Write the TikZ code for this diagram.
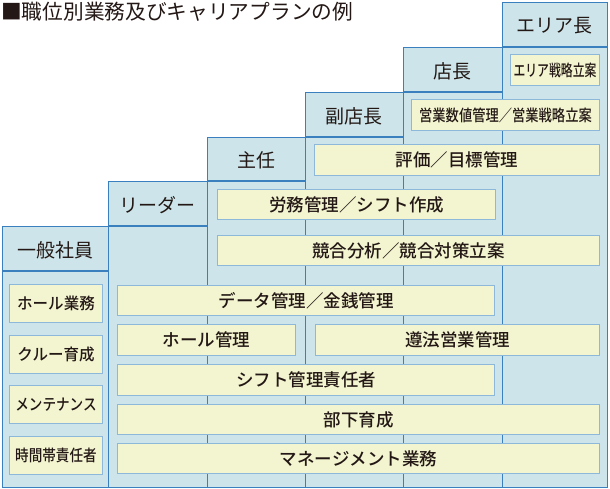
\documentclass[tikz,border=0pt]{standalone}
\usepackage{graphicx}
\usepackage{fontspec}
\setmainfont{Noto Sans CJK JP Medium}
\newfontfamily\regfont{Noto Sans CJK JP}
\definecolor{colfill}{HTML}{CDE5EA}
\definecolor{colline}{HTML}{3A80BF}
\definecolor{yfill}{HTML}{F3F5D0}
\definecolor{yline}{HTML}{8DB8D9}
\definecolor{ink}{HTML}{231815}
\newcommand\sqz[2]{\scalebox{#1}[1]{#2}}
\begin{document}
\begin{tikzpicture}[x=1pt,y=-1pt,
  colbox/.style={draw=colline,fill=colfill,line width=1.4pt,anchor=north west,inner sep=0pt},
  headtext/.style={text=ink,font=\regfont\fontsize{19}{21}\selectfont},
  ybox/.style={draw=yline,fill=yfill,line width=1pt,anchor=north west,inner sep=0pt,text=ink,font=\fontsize{17.5}{19}\selectfont},
  ysmall/.style={ybox,font=\fontsize{16}{18}\selectfont},
  hline/.style={draw=colline,line width=1.4pt}]
\useasboundingbox (0,0) rectangle (610,489);
% columns
\node[colbox,minimum width=106pt,minimum height=261pt] (c1) at (2,226) {};
\node[colbox,minimum width=99pt,minimum height=306pt] (c2) at (108,181) {};
\node[colbox,minimum width=98pt,minimum height=350pt] (c3) at (207,137) {};
\node[colbox,minimum width=98pt,minimum height=395pt] (c4) at (305,92) {};
\node[colbox,minimum width=99pt,minimum height=440pt] (c5) at (403,47) {};
\node[colbox,minimum width=105pt,minimum height=485pt] (c6) at (502,2) {};
% header separators
\coordinate (h1a) at (2,271); \coordinate (h1b) at (108,271);
\coordinate (h2a) at (108,226); \coordinate (h2b) at (207,226);
\coordinate (h3a) at (207,181); \coordinate (h3b) at (305,181);
\coordinate (h4a) at (305,137); \coordinate (h4b) at (403,137);
\coordinate (h5a) at (403,92); \coordinate (h5b) at (502,92);
\coordinate (h6a) at (502,47); \coordinate (h6b) at (607,47);
\draw[hline] (h1a) -- (h1b);
\draw[hline] (h2a) -- (h2b);
\draw[hline] (h3a) -- (h3b);
\draw[hline] (h4a) -- (h4b);
\draw[hline] (h5a) -- (h5b);
\draw[hline] (h6a) -- (h6b);
% header labels
\node[headtext] (t1) at (55,250) {一般社員};
\node[headtext] (t2) at (157.5,205) {リーダー};
\node[headtext] (t3) at (256,160) {主任};
\node[headtext] (t4) at (354,116) {副店長};
\node[headtext] (t5) at (452.5,71) {店長};
\node[headtext] (t6) at (554.5,26) {エリア長};
% title
\node[anchor=west,inner sep=0pt,text=ink,font=\regfont\fontsize{20.7}{22}\selectfont] (title) at (1,12) {■職位別業務及びキャリアプランの例};
% left column boxes
\node[ysmall,minimum width=93pt,minimum height=38pt] (l1) at (9,284) {\sqz{0.97}{ホール業務}};
\node[ysmall,minimum width=93pt,minimum height=38pt] (l2) at (9,335) {\sqz{0.97}{クルー育成}};
\node[ysmall,minimum width=93pt,minimum height=38pt] (l3) at (9,385) {\sqz{0.85}{メンテナンス}};
\node[ysmall,minimum width=93pt,minimum height=38pt] (l4) at (9,436) {\sqz{0.85}{時間帯責任者}};
% task boxes
\node[ysmall,minimum width=89pt,minimum height=31pt] (b1) at (510,54) {\sqz{0.74}{エリア戦略立案}};
\node[ysmall,minimum width=188pt,minimum height=31pt] (b2) at (411,99) {\sqz{0.83}{営業数値管理／営業戦略立案}};
\node[ybox,minimum width=285pt,minimum height=31pt] (b3) at (314,144) {評価／目標管理};
\node[ybox,minimum width=278pt,minimum height=30pt] (b4) at (217,189) {労務管理／シフト作成};
\node[ybox,minimum width=382pt,minimum height=30pt] (b5) at (217,235) {競合分析／競合対策立案};
\node[ybox,minimum width=377pt,minimum height=30pt] (b6) at (117,285) {データ管理／金銭管理};
\node[ybox,minimum width=178pt,minimum height=31pt] (b7) at (117,324) {ホール管理};
\node[ybox,minimum width=284pt,minimum height=31pt] (b8) at (315,324) {遵法営業管理};
\node[ybox,minimum width=377pt,minimum height=31pt] (b9) at (117,364) {シフト管理責任者};
\node[ybox,minimum width=482pt,minimum height=30pt] (b10) at (117,404) {部下育成};
\node[ybox,minimum width=482pt,minimum height=30pt] (b11) at (117,443) {マネージメント業務};
\end{tikzpicture}
\end{document}
